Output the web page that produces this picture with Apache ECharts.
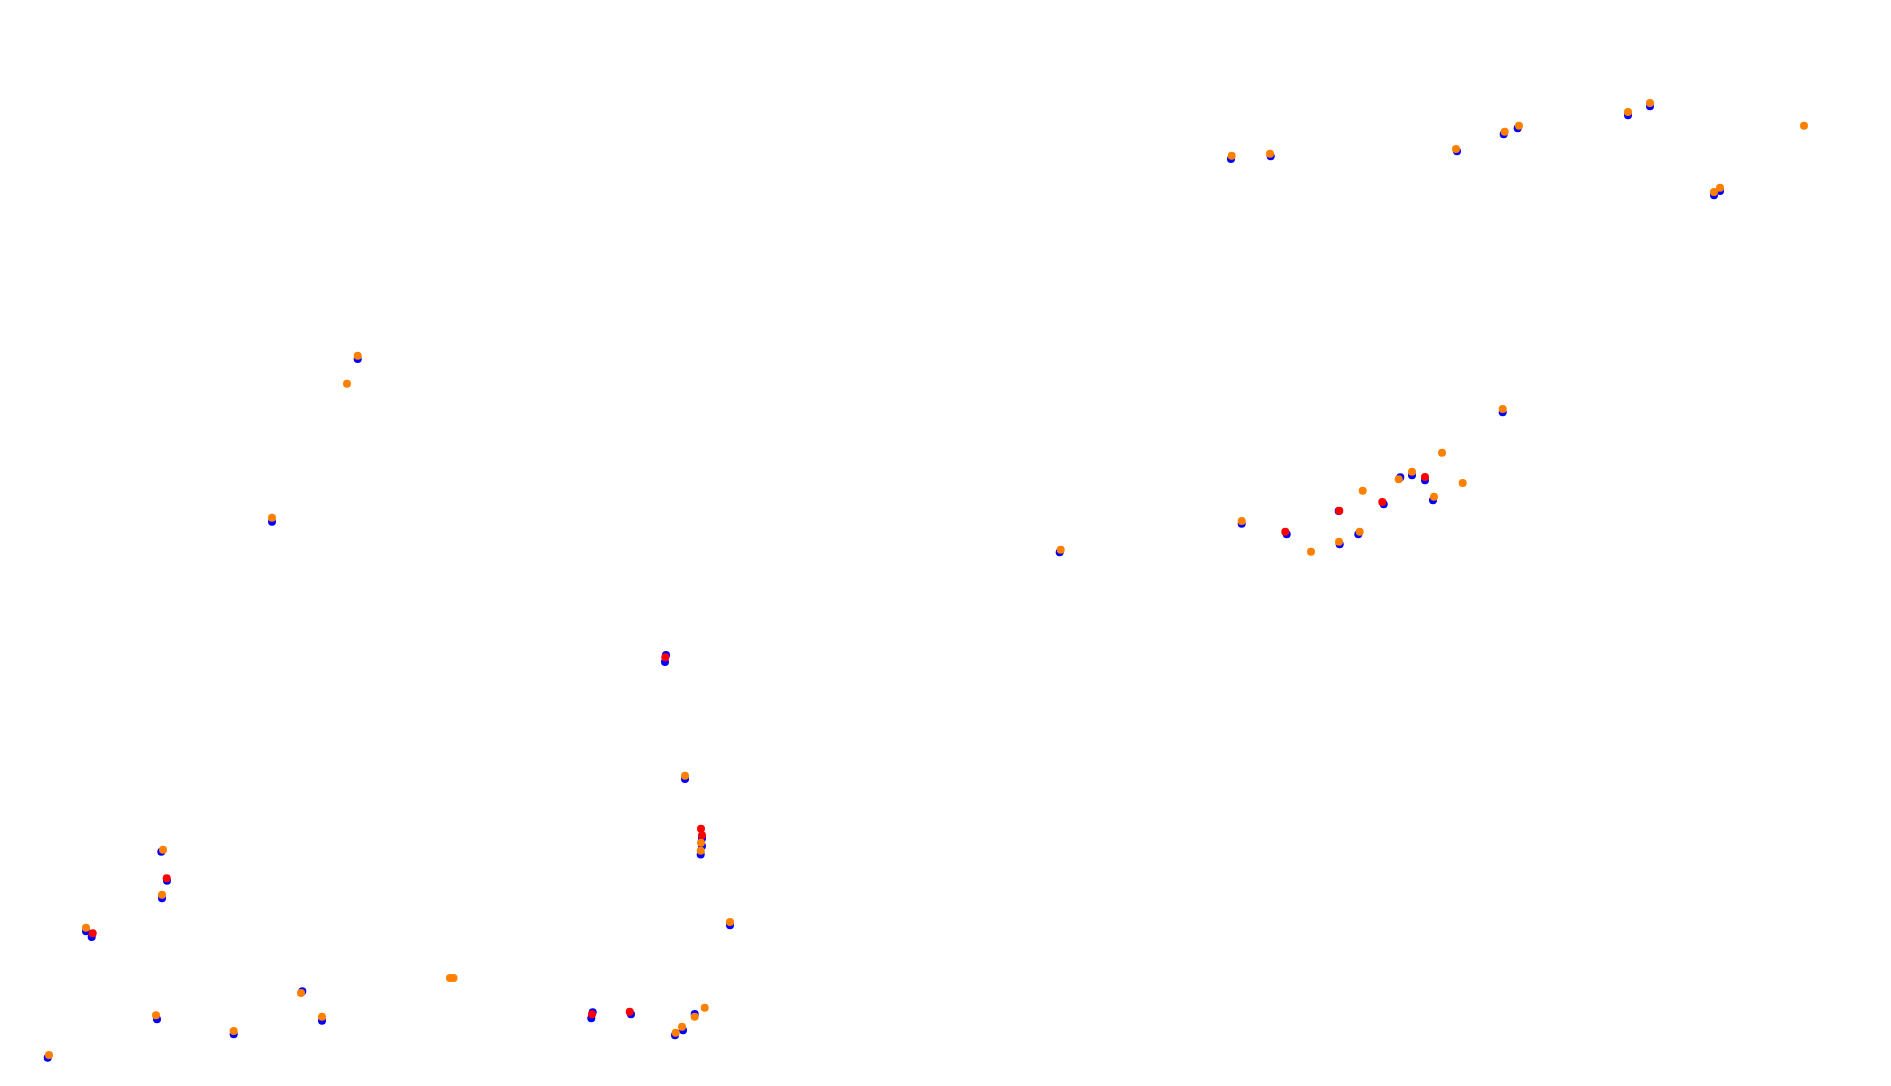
<!DOCTYPE html>
<html>
<head>
<meta charset="utf-8">
<script src="https://cdn.jsdelivr.net/npm/echarts@6/dist/echarts.min.js"></script>
<style>html,body{margin:0;padding:0;background:#fff;}#c{width:1891px;height:1086px;}</style>
</head>
<body>
<div id="c"></div>
<script>
// Track-position points (x, y); y grows downward
var bluePoints = [
  [1231,159],[1270.7,156.3],[1457,151.3],[1503.7,134.3],[1517.7,128.3],[1628,115.3],[1650,106.3],
  [1714,195.3],[1720,191],
  [1059.7,552.3],[1241.7,523.7],[1286.7,534.3],[1339.7,544.3],[1338.7,511],[1358.3,534.3],
  [1383.7,504.3],[1400.3,477.3],[1412,475.3],[1425,480.3],[1433,500.3],[1502.7,412.3],
  [357.7,359],[272,521.7],
  [666,655],[665,662],[685,779],[702,838.5],[702,846],[700.7,854.5],[730,925.3],
  [161.3,851.7],[167,880.7],[162,898.3],[86,931.3],[91.7,937],
  [302.3,991.3],[157,1019.3],[322,1020.7],[233.7,1034.3],[47.7,1057.7],
  [592.7,1012.3],[591.3,1018.3],[631,1014.3],[694.7,1014],[683,1030.3],[675,1035.3]
];
var redPoints = [
  [1285.3,531.7],[1339.3,510.7],[1382.3,502],[1425,477],
  [665.3,657.3],[701,828.7],[702,835.3],
  [166.7,878.3],[92.7,933.3],
  [592,1014.3],[629.7,1011.7]
];
var orangePoints = [
  [1231.7,155.7],[1270,153.7],[1456,149],[1504.7,131.7],[1519,125.7],[1628,112],[1650,103],
  [1804,125.7],[1714,192],[1720,187.7],
  [1060.7,549.7],[1241.7,521],[1311,551.7],[1339,541.7],[1362.7,490.7],[1359.7,531.7],
  [1398.7,479.3],[1412,471.7],[1442,452.7],[1434,496.7],[1462.7,483],[1502.7,409],
  [357.7,355.7],[347,383.7],[272,517.7],
  [685,775.7],[701,842.7],[700.7,850.7],[730,922],
  [163,849.7],[162,894.7],[86,927.7],
  [301,993],[156,1015.3],[322,1016.7],[233.7,1031],[49,1055],
  [450,978],[453.5,978],
  [694.7,1016.7],[704.7,1007.7],[682,1026.7],[675.7,1032.7]
];

var chart = echarts.init(document.getElementById('c'), null, {renderer: 'canvas'});
chart.setOption({
  animation: false,
  backgroundColor: '#ffffff',
  grid: {left: 0, right: 0, top: 0, bottom: 0},
  xAxis: {type: 'value', min: 0, max: 1891, show: false},
  yAxis: {type: 'value', min: 0, max: 1086, inverse: true, show: false},
  series: [
    {type: 'scatter', data: bluePoints, symbolSize: 8, itemStyle: {color: '#0000ff', opacity: 1}},
    {type: 'scatter', data: redPoints, symbolSize: 8, itemStyle: {color: '#ff0000', opacity: 1}},
    {type: 'scatter', data: orangePoints, symbolSize: 8, itemStyle: {color: '#ff8000', opacity: 1}}
  ]
});
</script>
</body>
</html>
